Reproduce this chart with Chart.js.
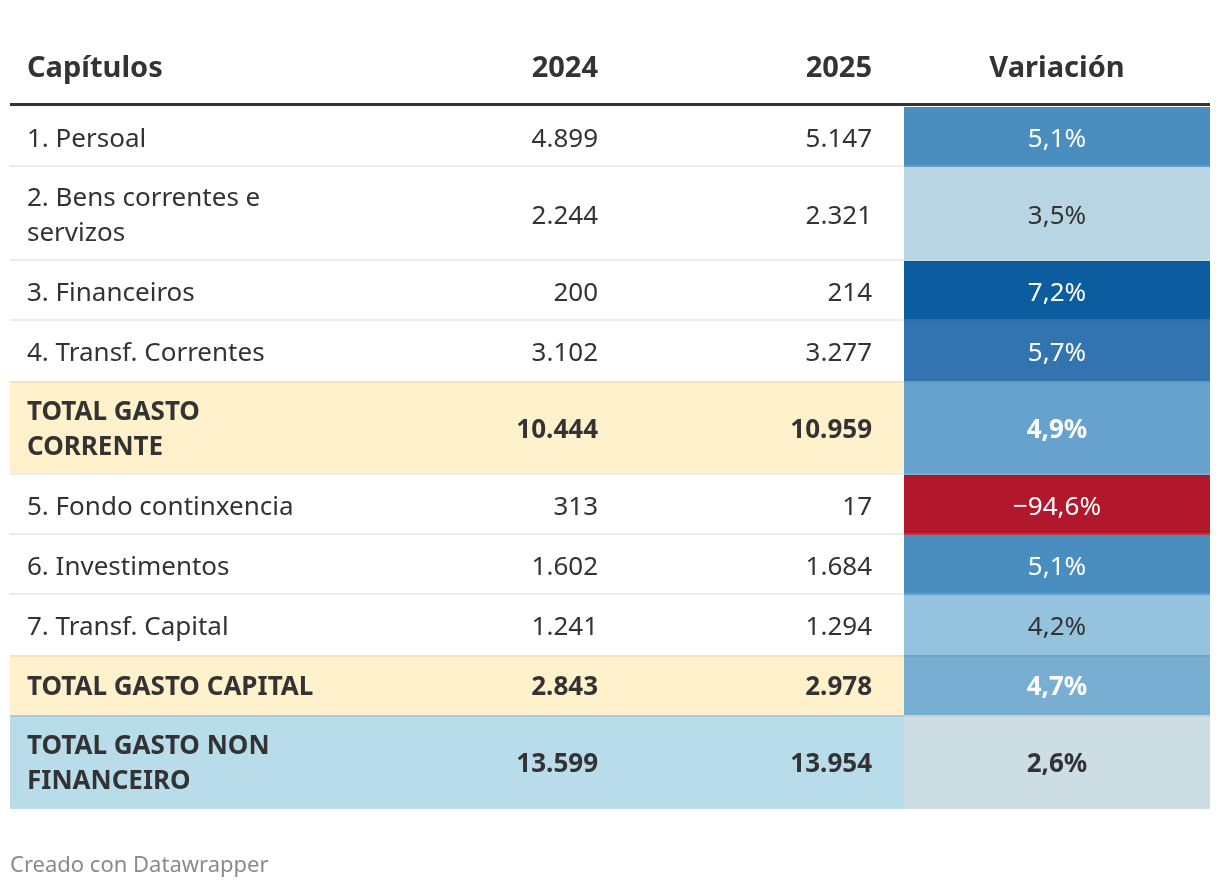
<!DOCTYPE html>
<html lang="gl">
<head>
<meta charset="utf-8">
<title>Capítulos de gasto 2024-2025</title>
<script src="https://cdn.jsdelivr.net/npm/chart.js@4.4.1/dist/chart.umd.min.js"></script>
<style>
  html, body { margin: 0; padding: 0; background: #fff; }
  #contenedor { width: 1220px; height: 888px; }
</style>
</head>
<body>
<div id="contenedor"><canvas id="tabla"></canvas></div>
<script>
// DATOS
const cabeceras = ["Capítulos", "2024", "2025", "Variación"];
const capitulos = [
  ["1. Persoal"],
  ["2. Bens correntes e", "servizos"],
  ["3. Financeiros"],
  ["4. Transf. Correntes"],
  ["TOTAL GASTO", "CORRENTE"],
  ["5. Fondo continxencia"],
  ["6. Investimentos"],
  ["7. Transf. Capital"],
  ["TOTAL GASTO CAPITAL"],
  ["TOTAL GASTO NON", "FINANCEIRO"]
];
const valores2024 = [4899, 2244, 200, 3102, 10444, 313, 1602, 1241, 2843, 13599];
const valores2025 = [5147, 2321, 214, 3277, 10959, 17, 1684, 1294, 2978, 13954];
const variacion = [5.1, 3.5, 7.2, 5.7, 4.9, -94.6, 5.1, 4.2, 4.7, 2.6];
const tipoFila = ["", "", "", "", "total", "", "", "", "total", "xeral"];
const nota = "Creado con Datawrapper";

// ESTILOS
const coresVariacion = ["#4a8dbf", "#b8d5e3", "#0c5ca0", "#3274b0", "#66a2cd", "#b1182b", "#4a8dbf", "#95c3de", "#78aed2", "#cddde4"];
const textoVariacionEscuro = [false, true, false, false, false, false, false, true, false, true];
const fondoFila = { total: "#fff1cc", xeral: "#b8dcea" };
const bordeFila = { total: "#f2e3bb", xeral: "#a8cde0" };
const fonte = '"Noto Sans", "Open Sans", sans-serif';
const corTexto = "#333333";

// columnas en px (escala x) e filas (escala y)
const colX = { esq: 10, texto: 27, dir2024: 598, dir2025: 872, varIni: 904, fin: 1210 };
const altoLinha = 35;
const topeFilas = 107;
const axusteTexto = 2.5;

function formatarNumero(n) {
  return String(n).replace(/\B(?=(\d{3})+(?!\d))/g, ".");
}
function formatarVariacion(v) {
  const t = Math.abs(v).toFixed(1).replace(".", ",") + "%";
  return (v < 0 ? "\u2212" : "") + t;
}

// limites de cada fila segundo o numero de linhas
const filas = [];
let yAct = topeFilas;
capitulos.forEach((linhas) => {
  const alto = linhas.length > 1 ? 94 : 60;
  filas.push({ y0: yAct, y1: yAct + alto });
  yAct += alto;
});

const pluginTabla = {
  id: "tabla",
  beforeDatasetsDraw(chart) {
    const ctx = chart.ctx;
    const sx = chart.scales.x;
    const sy = chart.scales.y;
    const px = (v) => sx.getPixelForValue(v);
    const py = (v) => sy.getPixelForValue(v);
    ctx.save();

    // cabeceira
    ctx.fillStyle = corTexto;
    ctx.font = "bold 29px " + fonte;
    ctx.textBaseline = "middle";
    ctx.textAlign = "left";
    ctx.fillText(cabeceras[0], px(colX.texto), py(68.5));
    ctx.textAlign = "right";
    ctx.fillText(cabeceras[1], px(colX.dir2024), py(68.5));
    ctx.fillText(cabeceras[2], px(colX.dir2025), py(68.5));
    ctx.textAlign = "center";
    ctx.fillText(cabeceras[3], px((colX.varIni + colX.fin) / 2), py(68.5));

    // filas
    filas.forEach((f, i) => {
      const tipo = tipoFila[i];
      const x0 = px(colX.esq), x1 = px(colX.varIni), x2 = px(colX.fin);
      const y0 = py(f.y0), y1 = py(f.y1);
      if (fondoFila[tipo]) {
        ctx.fillStyle = fondoFila[tipo];
        ctx.fillRect(x0, y0, x1 - x0, y1 - y0);
      }
      ctx.fillStyle = coresVariacion[i];
      ctx.fillRect(x1, y0, x2 - x1, y1 - y0);

      // liñas separadoras
      if (bordeFila[tipo]) {
        ctx.fillStyle = bordeFila[tipo];
        ctx.fillRect(x0, y0, x1 - x0, 2);
        ctx.fillStyle = "rgba(0,0,0,0.06)";
        ctx.fillRect(x1, y0, x2 - x1, 2);
      }
      if (i < filas.length - 1 && !bordeFila[tipoFila[i + 1]]) {
        ctx.fillStyle = "#ececec";
        ctx.fillRect(x0, y1 - 2, x1 - x0, 2);
        ctx.fillStyle = "rgba(255,255,255,0.12)";
        ctx.fillRect(x1, y1 - 2, x2 - x1, 2);
      }

      const negra = tipo !== "";
      ctx.font = (negra ? "bold " : "") + "26px " + fonte;
      const yc = (y0 + y1) / 2 + axusteTexto;
      ctx.fillStyle = corTexto;
      ctx.textAlign = "left";
      const linhas = capitulos[i];
      linhas.forEach((l, k) => {
        const y = yc + (k - (linhas.length - 1) / 2) * altoLinha;
        ctx.fillText(l, px(colX.texto), y);
      });
      ctx.textAlign = "right";
      ctx.fillText(formatarNumero(valores2024[i]), px(colX.dir2024), yc);
      ctx.fillText(formatarNumero(valores2025[i]), px(colX.dir2025), yc);
      ctx.textAlign = "center";
      ctx.fillStyle = textoVariacionEscuro[i] ? corTexto : "#ffffff";
      ctx.fillText(formatarVariacion(variacion[i]), px((colX.varIni + colX.fin) / 2), yc);
    });

    // liña groso baixo a cabeceira
    ctx.fillStyle = "#333333";
    ctx.fillRect(px(colX.esq), py(103), px(colX.fin) - px(colX.esq), 3);

    // nota
    ctx.fillStyle = "#8a8a8a";
    ctx.font = "22px " + fonte;
    ctx.textAlign = "left";
    ctx.fillText(nota, px(10), py(866));
    ctx.restore();
  }
};

const grafica = document.getElementById("tabla").getContext("2d");
new Chart(grafica, {
  type: "scatter",
  data: { datasets: [{ data: [], pointRadius: 0 }] },
  options: {
    responsive: true,
    maintainAspectRatio: false,
    animation: false,
    layout: { padding: 0 },
    plugins: { legend: { display: false }, tooltip: { enabled: false } },
    scales: {
      x: { type: "linear", min: 0, max: 1220, display: false },
      y: { type: "linear", min: 0, max: 888, reverse: true, display: false }
    }
  },
  plugins: [pluginTabla]
});
</script>
</body>
</html>
